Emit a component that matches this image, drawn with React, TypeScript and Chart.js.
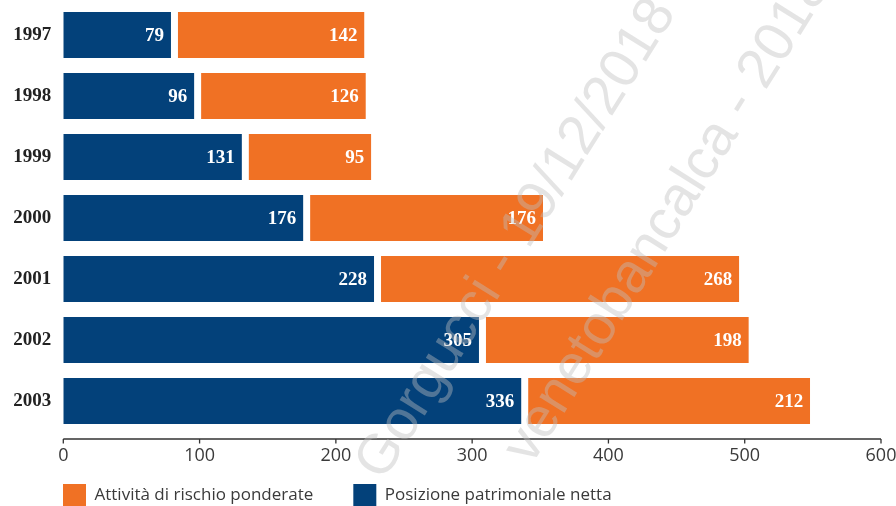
import React, { useEffect, useRef } from 'react';
import { Chart, registerables } from 'chart.js';

Chart.register(...registerables);

const categories = ['1997', '1998', '1999', '2000', '2001', '2002', '2003'];
const posizioneNetta = [79, 96, 131, 176, 228, 305, 336];
const attivitaRischio = [142, 126, 95, 176, 268, 198, 212];
const xTickValues = [0, 100, 200, 300, 400, 500, 600];
const seriesNames = ['Posizione patrimoniale netta', 'Attività di rischio ponderate'];
const watermarkLines = ['Gorgucci - 19/12/2018', 'venetobancalca - 2018'];

const BLUE = '#03417a';
const ORANGE = '#f07124';
const SANS = '"Open Sans", sans-serif';
const SERIF = '"Liberation Serif", serif';
const TEXT = '#3a3a3a';

const valueLabels = {
  id: 'valueLabels',
  afterDatasetsDraw(chart: any) {
    const ctx = chart.ctx;
    ctx.save();
    ctx.fillStyle = '#ffffff';
    ctx.font = `bold 19px ${SERIF}`;
    ctx.textAlign = 'right';
    ctx.textBaseline = 'middle';
    chart.data.datasets.forEach((ds: any, di: number) => {
      const meta = chart.getDatasetMeta(di);
      meta.data.forEach((el: any, i: number) => {
        ctx.fillText(String(ds.data[i]), el.x - 7, el.y + 1);
      });
    });
    ctx.restore();
  },
};

const xAxisLine = {
  id: 'xAxisLine',
  afterDraw(chart: any) {
    const ctx = chart.ctx;
    const xs = chart.scales.x;
    const y0 = chart.chartArea.bottom + 7.5;
    ctx.save();
    ctx.strokeStyle = '#333333';
    ctx.lineWidth = 1.3;
    ctx.beginPath();
    ctx.moveTo(xs.left, y0);
    ctx.lineTo(xs.right, y0);
    xTickValues.forEach((v) => {
      const px = xs.getPixelForValue(v);
      ctx.moveTo(px, y0);
      ctx.lineTo(px, y0 + 4.5);
    });
    ctx.stroke();
    ctx.restore();
  },
};

const watermark = {
  id: 'watermark',
  afterDraw(chart: any) {
    const ctx = chart.ctx;
    ctx.save();
    ctx.fillStyle = 'rgba(190,190,190,0.42)';
    ctx.font = '56px "Liberation Sans", Arial, sans-serif';
    ctx.textAlign = 'left';
    ctx.textBaseline = 'middle';
    const ang = (-58 * Math.PI) / 180;
    const starts = [
      [370, 474],
      [518, 458],
    ];
    watermarkLines.forEach((t, i) => {
      ctx.save();
      ctx.translate(starts[i][0], starts[i][1]);
      ctx.rotate(ang);
      ctx.fillText(t, 0, 0);
      ctx.restore();
    });
    ctx.restore();
  },
};

function App() {
  const ref = useRef<HTMLCanvasElement | null>(null);

  useEffect(() => {
    if (!ref.current) return;
    const chart = new Chart(ref.current, {
      type: 'bar',
      data: {
        labels: categories,
        datasets: [
          {
            label: seriesNames[0],
            data: posizioneNetta,
            backgroundColor: BLUE,
            borderWidth: 0,
            inflateAmount: 0,
            categoryPercentage: 1,
            barPercentage: 46 / 61,
          },
          {
            label: seriesNames[1],
            data: attivitaRischio,
            backgroundColor: ORANGE,
            borderColor: '#ffffff',
            borderWidth: { left: 7, right: 0, top: 0, bottom: 0 },
            borderSkipped: false,
            inflateAmount: 0,
            categoryPercentage: 1,
            barPercentage: 46 / 61,
          },
        ],
      } as any,
      options: {
        indexAxis: 'y',
        responsive: true,
        maintainAspectRatio: false,
        animation: false,
        layout: { padding: { left: 23, right: 15, top: 4.5, bottom: -10 } },
        scales: {
          x: {
            type: 'linear',
            stacked: true,
            min: 0,
            max: 600,
            grid: { display: false, drawTicks: false },
            border: { display: false },
            afterBuildTicks: (s: any) => {
              s.ticks = xTickValues.map((v) => ({ value: v }));
            },
            ticks: {
              padding: 14,
              color: TEXT,
              font: { family: SANS, size: 18 },
              maxRotation: 0,
            },
            afterFit: (s: any) => {
              s.height = 12.5;
              s.paddingLeft = 0;
              s.paddingRight = 0;
              s._computeLabelArea = () => undefined;
            },
          },
          y: {
            type: 'category',
            stacked: true,
            grid: { display: false, drawTicks: false },
            border: { display: false },
            ticks: {
              padding: 12,
              color: '#222222',
              font: { family: SERIF, size: 19, weight: 'bold' },
            },
            afterFit: (s: any) => {
              s.width = 40.3;
              s.paddingTop = 0;
              s.paddingBottom = 0;
              s._computeLabelArea = () => undefined;
            },
          },
        },
        plugins: {
          legend: {
            position: 'bottom',
            align: 'start',
            labels: {
              boxWidth: 23,
              boxHeight: 22,
              padding: 40,
              color: TEXT,
              font: { family: SANS, size: 17 },
              sort: (a: any, b: any) => b.datasetIndex - a.datasetIndex,
              generateLabels: (c: any) =>
                (Chart.defaults.plugins.legend.labels as any)
                  .generateLabels(c)
                  .map((l: any) => ({ ...l, lineWidth: 0, strokeStyle: 'rgba(0,0,0,0)' })),
            },
          },
          tooltip: { enabled: false },
        },
      } as any,
      plugins: [valueLabels, xAxisLine, watermark],
    });
    return () => chart.destroy();
  }, []);

  return (
    <div
      style={{
        position: 'fixed',
        left: 0,
        top: 0,
        width: 896,
        height: 506,
        background: '#ffffff',
        overflow: 'hidden',
      }}
    >
      <canvas ref={ref} />
    </div>
  );
}

export default App;
